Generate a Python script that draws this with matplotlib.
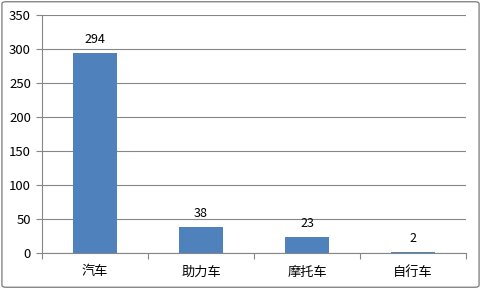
import matplotlib
matplotlib.use('Agg')
import matplotlib.pyplot as plt
from matplotlib.patches import FancyBboxPatch
import numpy as np

plt.rcParams['font.family'] = ['Noto Sans CJK SC', 'DejaVu Sans']

categories = ['汽车', '助力车', '摩托车', '自行车']
values = [294, 38, 23, 2]
y_ticks = [0, 50, 100, 150, 200, 250, 300, 350]

bar_color = '#4F81BD'
grid_color = '#868686'

fig = plt.figure(figsize=(4.81, 2.89), dpi=100)
ax = fig.add_axes([42 / 481, 1 - 253 / 289, 424 / 481, 238 / 289])

x = np.arange(len(categories))
bars = ax.bar(x, values, width=0.41, color=bar_color, zorder=3)
for xi, v in zip(x, values):
    ax.annotate(str(v), (xi, v), xytext=(0, 5), textcoords='offset points',
                ha='center', va='bottom', fontsize=9, color='#000000')

ax.set_xlim(-0.5, len(categories) - 0.5)
ax.set_ylim(0, 350)
ax.set_yticks(y_ticks)
ax.set_yticklabels([str(t) for t in y_ticks], fontsize=9.5)
ax.set_xticks(x)
ax.set_xticklabels(categories, fontsize=9.5)
ax.set_xticks(np.arange(-0.5, len(categories)), minor=True)
ax.tick_params(axis='x', which='major', length=0, pad=9)
ax.tick_params(axis='x', which='minor', length=4, color=grid_color, width=0.8)
ax.tick_params(axis='y', length=4, color=grid_color, width=0.8, pad=4)

ax.grid(axis='y', color=grid_color, linewidth=0.8, zorder=0)
for side in ['top', 'right']:
    ax.spines[side].set_visible(False)
ax.spines['left'].set_color(grid_color)
ax.spines['bottom'].set_color(grid_color)
ax.spines['left'].set_linewidth(0.8)
ax.spines['bottom'].set_linewidth(0.8)

border = FancyBboxPatch((0.004, 0.006), 0.992, 0.988, boxstyle='round,pad=0,rounding_size=0.008',
                        transform=fig.transFigure, fill=False, edgecolor='#868686', linewidth=1.0)
fig.patches.append(border)

fig.savefig('out.png', dpi=100)
